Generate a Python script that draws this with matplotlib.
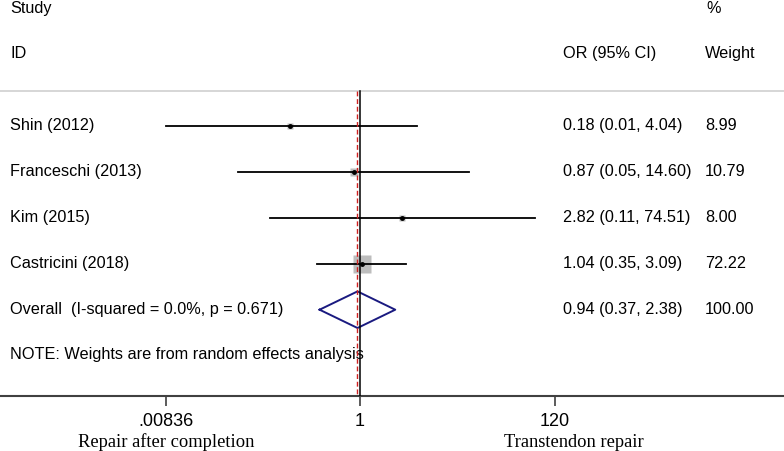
import numpy as np
import matplotlib
matplotlib.use('Agg')
import matplotlib.pyplot as plt

plt.rcParams['font.family'] = ['Liberation Sans', 'DejaVu Sans']

# data
studies = ['Shin (2012)', 'Franceschi (2013)', 'Kim (2015)', 'Castricini (2018)']
odds = [0.18, 0.87, 2.82, 1.04]
lower = [0.00836, 0.05, 0.11, 0.35]
upper = [4.04, 14.60, 74.51, 3.09]
weights = [8.99, 10.79, 8.00, 72.22]
ci_text = ['0.18 (0.01, 4.04)', '0.87 (0.05, 14.60)', '2.82 (0.11, 74.51)', '1.04 (0.35, 3.09)']
weight_text = ['8.99', '10.79', '8.00', '72.22']
overall_label = 'Overall  (I-squared = 0.0%, p = 0.671)'
overall = [0.94, 0.37, 2.38]
overall_text = ['0.94 (0.37, 2.38)', '100.00']
xticks = [0.00836, 1, 120]
xticklabels = ['.00836', '1', '120']

W, H = 784, 451
fig = plt.figure(figsize=(W / 100, H / 100), dpi=100)
axis_px = 396
ax = fig.add_axes([0, (H - axis_px) / H, 1, axis_px / H])

px_dec = 93.6
ax.set_xscale('log')
ax.set_xlim(10 ** (-360 / px_dec), 10 ** ((W - 360) / px_dec))
row0, step = 125.7, 46.0
ax.set_ylim((axis_px - row0) / step, -row0 / step)

def ry(px):
    return (px - row0) / step

tr = ax.get_yaxis_transform()
fs = 11.7

ax.text(10 / W, ry(8), 'Study', transform=tr, fontsize=fs, va='center')
ax.text(10 / W, ry(53), 'ID', transform=tr, fontsize=fs, va='center')
ax.text(706 / W, ry(8), '%', transform=tr, fontsize=fs, va='center')
ax.text(563 / W, ry(53), 'OR (95% CI)', transform=tr, fontsize=fs, va='center')
ax.text(705 / W, ry(53), 'Weight', transform=tr, fontsize=fs, va='center')
ax.axhline(ry(91), color='#cfcfcf', lw=1.2)

wmax = max(weights)
for i, s in enumerate(studies):
    ax.plot([lower[i], upper[i]], [i, i], color='black', lw=1.3, zorder=3)
    ms = 13.3 * np.sqrt(weights[i] / wmax)
    ax.plot(odds[i], i, marker='s', ms=ms, color='#bdbdbd', mec='none', zorder=2)
    ax.plot(odds[i], i, marker='o', ms=2.5, color='black', zorder=4)
    ax.text(10 / W, i, s, transform=tr, fontsize=fs, va='center')
    ax.text(563 / W, i, ci_text[i], transform=tr, fontsize=fs, va='center')
    ax.text(705 / W, i, weight_text[i], transform=tr, fontsize=fs, va='center')

yo = len(studies)
dh = 18.3 / step
ax.plot([overall[1], overall[0], overall[2], overall[0], overall[1]],
        [yo, yo - dh, yo, yo + dh, yo], color='#1a1a80', lw=1.4, zorder=3)
ax.text(10 / W, yo, overall_label, transform=tr, fontsize=fs, va='center')
ax.text(563 / W, yo, overall_text[0], transform=tr, fontsize=fs, va='center')
ax.text(705 / W, yo, overall_text[1], transform=tr, fontsize=fs, va='center')

ax.text(10 / W, ry(354), 'NOTE: Weights are from random effects analysis',
        transform=tr, fontsize=fs, va='center')

ytop, ybot = ry(91), ry(axis_px)
ax.plot([1, 1], [ytop, ybot], color='black', lw=1.1, zorder=5)
ax.plot([overall[0], overall[0]], [ytop, ybot], color='#d02020', lw=1.0,
        ls=(0, (3.5, 2)), zorder=4)

for sp in ['top', 'left', 'right']:
    ax.spines[sp].set_visible(False)
ax.spines['bottom'].set_color('#404040')
ax.spines['bottom'].set_linewidth(1.5)
ax.set_yticks([])
ax.xaxis.set_minor_locator(matplotlib.ticker.NullLocator())
ax.set_xticks(xticks)
ax.set_xticklabels(xticklabels, fontsize=13)
ax.tick_params(axis='x', length=7, width=1.2, color='#404040', pad=5)

ax.text(166 / W, -0.095, 'Repair after completion', transform=ax.transAxes,
        family=['Liberation Serif'], fontsize=13.3, ha='center', va='top')
ax.text(574 / W, -0.095, 'Transtendon repair', transform=ax.transAxes,
        family=['Liberation Serif'], fontsize=13.3, ha='center', va='top')

fig.savefig('out.png', dpi=100)
